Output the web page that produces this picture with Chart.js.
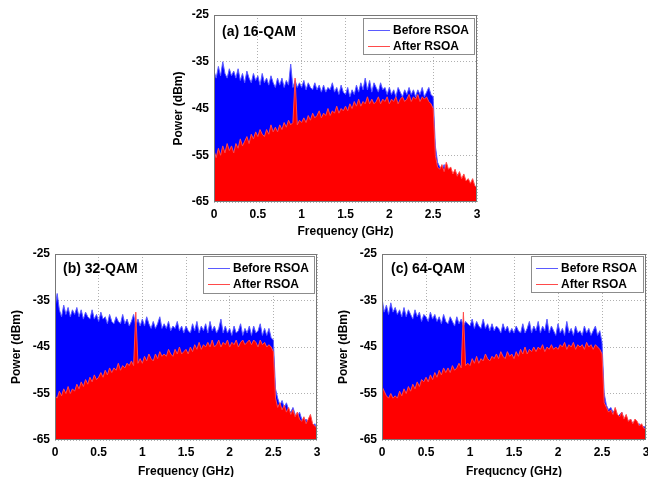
<!DOCTYPE html>
<html>
<head>
<meta charset="utf-8">
<title>RSOA spectra</title>
<script src="https://cdn.jsdelivr.net/npm/chart.js@4.4.0/dist/chart.umd.min.js"></script>
<style>
  body { margin: 0; background: #fff; width: 648px; height: 477px; overflow: hidden; position: relative;
         font-family: "Liberation Sans", Arial, sans-serif; }
  canvas { position: absolute; }
  .tag { position: absolute; font-weight: bold; font-size: 14px; line-height: 16px; white-space: nowrap; color: #000; }
  .legend { position: absolute; background: #fff; border: 1px solid #8c8c8c; box-sizing: border-box; }
  .legend .row { position: absolute; left: 0; width: 100%; height: 14px; font-size: 12px; font-weight: bold; line-height: 14px; white-space: nowrap; }
  .legend .swatch { position: absolute; left: 4px; width: 22px; height: 0; top: 7px; border-top: 1px solid #000; }
  .legend .txt { position: absolute; left: 29px; top: 0; }
</style>
</head>
<body>
<script>
// frequency grid (GHz)
var freq = [
  0, 0.025, 0.05, 0.075, 0.1, 0.125, 0.15, 0.175, 0.2, 0.225,
  0.25, 0.275, 0.3, 0.325, 0.35, 0.375, 0.4, 0.425, 0.45, 0.475,
  0.5, 0.525, 0.55, 0.575, 0.6, 0.625, 0.65, 0.675, 0.7, 0.725,
  0.75, 0.775, 0.8, 0.825, 0.85, 0.875, 0.9, 0.925, 0.95, 0.975,
  1, 1.025, 1.05, 1.075, 1.1, 1.125, 1.15, 1.175, 1.2, 1.225,
  1.25, 1.275, 1.3, 1.325, 1.35, 1.375, 1.4, 1.425, 1.45, 1.475,
  1.5, 1.525, 1.55, 1.575, 1.6, 1.625, 1.65, 1.675, 1.7, 1.725,
  1.75, 1.775, 1.8, 1.825, 1.85, 1.875, 1.9, 1.925, 1.95, 1.975,
  2, 2.025, 2.05, 2.075, 2.1, 2.125, 2.15, 2.175, 2.2, 2.225,
  2.25, 2.275, 2.3, 2.325, 2.35, 2.375, 2.4, 2.425, 2.45, 2.475,
  2.5, 2.525, 2.55, 2.575, 2.6, 2.625, 2.65, 2.675, 2.7, 2.725,
  2.75, 2.775, 2.8, 2.825, 2.85, 2.875, 2.9, 2.925, 2.95, 2.975,
  3
];

var xTicks = [0, 0.5, 1, 1.5, 2, 2.5, 3];
var xTickLabels = ['0', '0.5', '1', '1.5', '2', '2.5', '3'];
var yTicks = [-65, -55, -45, -35, -25];
var yTickLabels = ['-65', '-55', '-45', '-35', '-25'];
var seriesNames = ['Before RSOA', 'After RSOA'];

// (a) 16-QAM, power in dBm
var before16 = [
  -37.0, -38.5, -36.0, -38.0, -35.0, -37.5, -38.5, -36.5, -38.0, -37.0,
  -38.5, -36.5, -39.0, -37.5, -39.5, -37.0, -38.5, -39.5, -37.5, -39.0,
  -38.0, -40.0, -37.5, -39.5, -38.5, -40.0, -38.0, -39.5, -40.5, -38.5,
  -40.0, -38.5, -40.5, -39.0, -40.0, -35.5, -40.5, -39.0, -40.5, -39.5,
  -40.5, -39.0, -41.0, -39.5, -40.5, -41.0, -39.5, -41.0, -40.0, -41.5,
  -40.0, -41.5, -40.5, -41.0, -39.5, -41.5, -40.5, -42.0, -40.0, -41.5,
  -42.0, -40.5, -42.5, -41.0, -42.0, -40.0, -41.5, -39.5, -41.0, -38.5,
  -41.0, -39.0, -41.5, -39.5, -40.5, -41.5, -39.5, -41.0, -40.5, -42.0,
  -40.5, -42.0, -41.0, -42.5, -40.5, -41.5, -42.5, -41.0, -42.0, -40.5,
  -42.0, -41.0, -42.5, -41.0, -42.0, -40.5, -42.5, -41.5, -40.5, -42.0,
  -42.5, -53.0, -56.5, -57.5, -58.0, -57.0, -58.5, -59.0, -58.5, -59.5,
  -60.0, -59.0, -60.5, -60.0, -61.0, -60.5, -61.5, -61.0, -62.0, -61.5,
  -62.0
];
var after16 = [
  -54.0, -55.5, -53.5, -55.0, -53.0, -54.5, -52.5, -54.0, -53.0, -54.5,
  -52.5, -53.5, -51.5, -53.0, -52.0, -51.0, -52.5, -50.5, -51.5, -50.0,
  -51.0, -49.5, -50.5, -51.0, -49.5, -50.5, -48.5, -50.0, -49.0, -50.0,
  -48.5, -49.5, -48.0, -49.0, -47.5, -48.5, -48.0, -38.5, -48.5, -47.5,
  -48.0, -47.0, -48.0, -46.5, -47.5, -46.0, -47.0, -46.5, -45.5, -47.0,
  -46.0, -46.5, -45.0, -46.5, -45.5, -46.0, -44.5, -46.0, -45.0, -45.5,
  -44.5, -45.5, -44.0, -45.0, -43.5, -44.5, -43.0, -44.5, -43.5, -44.0,
  -42.5, -44.0, -43.0, -44.0, -43.5, -42.5, -44.0, -43.0, -43.5, -42.5,
  -44.0, -43.0, -43.5, -42.5, -44.0, -43.0, -42.5, -43.5, -43.0, -42.0,
  -43.5, -42.5, -43.0, -42.0, -43.5, -42.5, -43.0, -42.5, -43.5, -44.0,
  -45.0, -55.0, -57.5, -58.0, -57.0, -58.5, -56.5, -58.0, -57.5, -59.0,
  -58.0, -59.5, -58.5, -60.0, -59.0, -60.5, -60.0, -61.0, -60.0, -61.5,
  -62.0
];

// (b) 32-QAM
var before32 = [
  -36.5, -33.5, -37.0, -38.5, -36.0, -38.0, -36.5, -38.5, -37.0, -38.0,
  -36.5, -38.5, -37.0, -39.0, -37.5, -38.5, -39.0, -37.0, -39.0, -38.0,
  -39.5, -37.5, -39.0, -38.5, -40.0, -38.0, -39.5, -40.0, -38.5, -39.5,
  -40.0, -38.0, -40.0, -39.0, -40.5, -39.5, -38.0, -40.5, -39.0, -40.5,
  -39.0, -40.5, -38.5, -40.0, -41.0, -39.5, -41.0, -40.0, -38.5, -41.0,
  -40.0, -41.0, -39.5, -41.5, -40.5, -41.0, -39.5, -41.5, -40.5, -42.0,
  -40.5, -41.5, -42.0, -40.0, -41.5, -39.5, -42.0, -40.5, -41.5, -40.0,
  -42.0, -39.5, -41.5, -40.5, -42.0, -41.0, -39.0, -42.0, -40.5, -42.0,
  -41.0, -42.5, -40.5, -42.0, -41.5, -40.0, -42.5, -41.0, -42.0, -40.5,
  -42.5, -40.5, -42.0, -41.5, -40.0, -42.5, -41.0, -42.5, -41.0, -43.0,
  -43.5, -54.0, -56.0, -57.5, -56.5, -58.0, -57.0, -58.5, -59.0, -58.0,
  -59.5, -60.0, -59.0, -60.5, -61.0, -60.5, -61.5, -61.0, -62.0, -61.5,
  -62.5
];
var after32 = [
  -55.5, -56.0, -54.5, -55.5, -54.0, -55.0, -53.5, -55.0, -54.0, -54.5,
  -53.0, -54.0, -52.5, -53.5, -52.0, -53.0, -51.5, -52.5, -51.0, -52.0,
  -51.5, -50.5, -51.5, -50.0, -51.0, -49.5, -50.5, -49.5, -50.0, -48.5,
  -50.0, -49.0, -49.5, -48.5, -49.0, -48.0, -49.0, -37.5, -48.5, -47.5,
  -48.5, -47.0, -48.0, -46.5, -47.5, -48.0, -46.5, -47.5, -46.0, -47.0,
  -46.5, -47.0, -45.5, -46.5, -47.0, -45.5, -46.5, -45.0, -46.5, -46.0,
  -45.5, -46.5, -45.0, -46.0, -44.5, -45.5, -44.0, -45.5, -44.5, -45.0,
  -44.0, -45.0, -43.5, -45.0, -44.5, -43.5, -45.0, -44.0, -44.5, -43.5,
  -45.0, -44.0, -44.5, -43.5, -45.0, -44.0, -43.5, -44.5, -44.0, -43.5,
  -44.5, -43.5, -44.0, -45.0, -43.5, -44.5, -44.0, -45.0, -44.5, -45.0,
  -46.0, -56.0, -58.0, -57.0, -58.5, -57.5, -59.0, -58.0, -59.5, -58.5,
  -60.0, -59.0, -60.5, -61.0, -60.0, -61.5, -60.5, -59.5, -61.5, -62.0,
  -62.5
];

// (c) 64-QAM
var before64 = [
  -34.5, -37.5, -36.0, -38.0, -35.5, -37.5, -36.5, -38.0, -37.0, -38.5,
  -36.5, -38.5, -37.0, -38.0, -39.0, -37.0, -38.5, -37.5, -39.5, -38.0,
  -38.5, -39.5, -37.5, -39.0, -38.0, -39.5, -38.5, -40.0, -38.0, -39.5,
  -40.0, -38.5, -39.5, -40.5, -38.5, -40.0, -39.0, -40.5, -39.5, -40.0,
  -40.5, -39.0, -41.0, -39.5, -40.5, -41.0, -39.0, -41.0, -40.0, -41.5,
  -40.0, -41.5, -40.5, -41.0, -42.0, -40.0, -41.5, -40.5, -42.0, -41.0,
  -42.0, -40.5, -41.5, -42.0, -40.0, -42.0, -41.0, -39.5, -42.0, -40.5,
  -41.5, -39.5, -42.0, -40.5, -41.5, -39.0, -42.0, -40.5, -41.5, -42.5,
  -40.0, -42.0, -41.0, -42.5, -39.5, -42.0, -41.0, -42.5, -40.5, -42.0,
  -41.5, -42.5, -40.5, -42.0, -41.0, -42.5, -41.5, -40.5, -42.5, -41.5,
  -44.0, -55.0, -57.5, -58.5, -58.0, -59.0, -58.5, -60.0, -59.5, -59.0,
  -60.5, -60.0, -61.0, -60.5, -61.5, -61.0, -62.0, -61.5, -62.5, -62.0,
  -62.5
];
var after64 = [
  -53.5, -54.5, -55.5, -56.0, -55.0, -56.0, -55.5, -56.0, -54.5, -55.5,
  -54.0, -55.0, -53.5, -54.5, -53.0, -54.0, -52.5, -53.5, -52.0, -52.5,
  -51.5, -52.5, -51.0, -52.0, -50.5, -51.5, -50.0, -51.0, -49.5, -50.5,
  -49.5, -50.5, -49.0, -50.0, -49.5, -48.5, -49.5, -37.5, -49.0, -48.5,
  -49.0, -47.5, -48.5, -47.0, -48.5, -47.5, -48.0, -46.5, -47.5, -48.0,
  -47.0, -47.5, -46.5, -47.5, -46.0, -47.0, -47.5, -46.0, -47.0, -46.5,
  -47.5, -46.0, -47.0, -45.5, -46.5, -45.0, -46.5, -45.5, -46.0, -45.0,
  -46.0, -45.0, -45.5, -44.5, -46.0, -45.0, -45.5, -44.5, -45.5, -45.0,
  -45.5, -44.5, -45.0, -44.0, -45.5, -44.5, -45.0, -44.0, -45.5, -44.5,
  -45.0, -44.5, -45.5, -44.0, -45.0, -44.5, -45.5, -44.5, -45.0, -45.5,
  -46.5, -57.0, -58.0, -59.0, -58.5, -59.5, -58.0, -59.5, -60.0, -59.0,
  -60.5, -59.5, -61.0, -60.5, -61.5, -60.5, -61.0, -62.0, -61.5, -62.5,
  -62.5
];

var FONT = '"Liberation Sans", Arial, sans-serif';
var lineColors = ['#5a5aff', '#ff4a4a'];
var fillColors = ['#0000ff', '#ff0000'];

var panels = [
  { tag: '(a) 16-QAM', xTitle: 'Frequency (GHz)', before: before16, after: after16,
    box: [150, 0, 340, 245], padTop: 15, padRight: 13, yWidth: 64, xHeight: 43, yTitlePad: 21, xTitlePad: 6,
    tagPos: [222, 23], legend: [363, 18, 112, 37] },
  { tag: '(b) 32-QAM', xTitle: 'Frequency (GHz)', before: before32, after: after32,
    box: [0, 240, 330, 237], padTop: 14, padRight: 13, yWidth: 55, xHeight: 37, yTitlePad: 9, xTitlePad: -2,
    tagPos: [63, 260], legend: [203, 256, 112, 38] },
  { tag: '(c) 64-QAM', xTitle: 'Frequcncy (GHz)', before: before64, after: after64,
    box: [325, 240, 323, 237], padTop: 14, padRight: 2, yWidth: 57, xHeight: 37, yTitlePad: 11, xTitlePad: -2,
    tagPos: [391, 260], legend: [531, 256, 113, 37] }
];

// grey box round the plot area
var framePlugin = {
  id: 'frame',
  afterDatasetsDraw: function(chart) {
    var a = chart.chartArea, ctx = chart.ctx;
    ctx.save();
    ctx.strokeStyle = '#777';
    ctx.lineWidth = 1;
    ctx.strokeRect(Math.round(a.left) + 0.5, Math.round(a.top) + 0.5,
                   Math.round(a.right - a.left) - 1, Math.round(a.bottom - a.top) - 1);
    ctx.restore();
  }
};

function points(values) {
  return values.map(function(v, i) { return { x: freq[i], y: v }; });
}

function makeChart(p) {
  var canvas = document.createElement('canvas');
  canvas.width = p.box[2];
  canvas.height = p.box[3];
  canvas.style.left = p.box[0] + 'px';
  canvas.style.top = p.box[1] + 'px';
  document.body.appendChild(canvas);

  var tickFont = { family: FONT, size: 12, weight: 'bold' };

  new Chart(canvas, {
    type: 'line',
    data: {
      datasets: [
        { label: seriesNames[0], data: points(p.before), borderColor: lineColors[0],
          backgroundColor: fillColors[0], fill: 'start', order: 2 },
        { label: seriesNames[1], data: points(p.after), borderColor: lineColors[1],
          backgroundColor: fillColors[1], fill: 'start', order: 1 }
      ]
    },
    options: {
      responsive: false,
      animation: false,
      events: [],
      layout: { padding: { left: 0, top: p.padTop, right: p.padRight, bottom: 0 } },
      plugins: { legend: { display: false }, tooltip: { enabled: false } },
      elements: { point: { radius: 0 }, line: { borderWidth: 1, tension: 0 } },
      scales: {
        x: {
          type: 'linear', min: 0, max: 3,
          afterBuildTicks: function(s) { s.ticks = xTicks.map(function(v) { return { value: v }; }); },
          afterFit: function(s) { s.height = p.xHeight; s.paddingLeft = 0; s.paddingRight = 0; },
          grid: { color: '#b0b0b0', lineWidth: 1, drawTicks: false },
          border: { display: false, dash: [1, 2] },
          ticks: { color: '#000', font: tickFont, padding: 5, maxRotation: 0, autoSkip: false,
                   callback: function(v, i) { return xTickLabels[i]; } },
          title: { display: true, text: p.xTitle, color: '#000', font: tickFont,
                   padding: { top: 0, bottom: p.xTitlePad } }
        },
        y: {
          type: 'linear', min: -65, max: -25,
          afterBuildTicks: function(s) { s.ticks = yTicks.map(function(v) { return { value: v }; }); },
          afterFit: function(s) { s.width = p.yWidth; s.paddingTop = 0; s.paddingBottom = 0; },
          grid: { color: '#b0b0b0', lineWidth: 1, drawTicks: false },
          border: { display: false, dash: [1, 2] },
          ticks: { color: '#000', font: tickFont, padding: 5, autoSkip: false,
                   callback: function(v, i) { return yTickLabels[i]; } },
          title: { display: true, text: 'Power (dBm)', color: '#000', font: tickFont,
                   padding: { top: p.yTitlePad, bottom: 0 } }
        }
      }
    },
    plugins: [framePlugin]
  });
}

function addTag(p) {
  var d = document.createElement('div');
  d.className = 'tag';
  d.textContent = p.tag;
  d.style.left = p.tagPos[0] + 'px';
  d.style.top = p.tagPos[1] + 'px';
  document.body.appendChild(d);
}

function addLegend(p) {
  var box = document.createElement('div');
  box.className = 'legend';
  box.style.left = p.legend[0] + 'px';
  box.style.top = p.legend[1] + 'px';
  box.style.width = p.legend[2] + 'px';
  box.style.height = p.legend[3] + 'px';
  for (var i = 0; i < seriesNames.length; i++) {
    var row = document.createElement('div');
    row.className = 'row';
    row.style.top = (4 + i * 16) + 'px';
    var sw = document.createElement('div');
    sw.className = 'swatch';
    sw.style.borderTopColor = lineColors[i];
    var txt = document.createElement('span');
    txt.className = 'txt';
    txt.textContent = seriesNames[i];
    row.appendChild(sw);
    row.appendChild(txt);
    box.appendChild(row);
  }
  document.body.appendChild(box);
}

for (var i = 0; i < panels.length; i++) {
  makeChart(panels[i]);
  addTag(panels[i]);
  addLegend(panels[i]);
}
</script>
</body>
</html>
